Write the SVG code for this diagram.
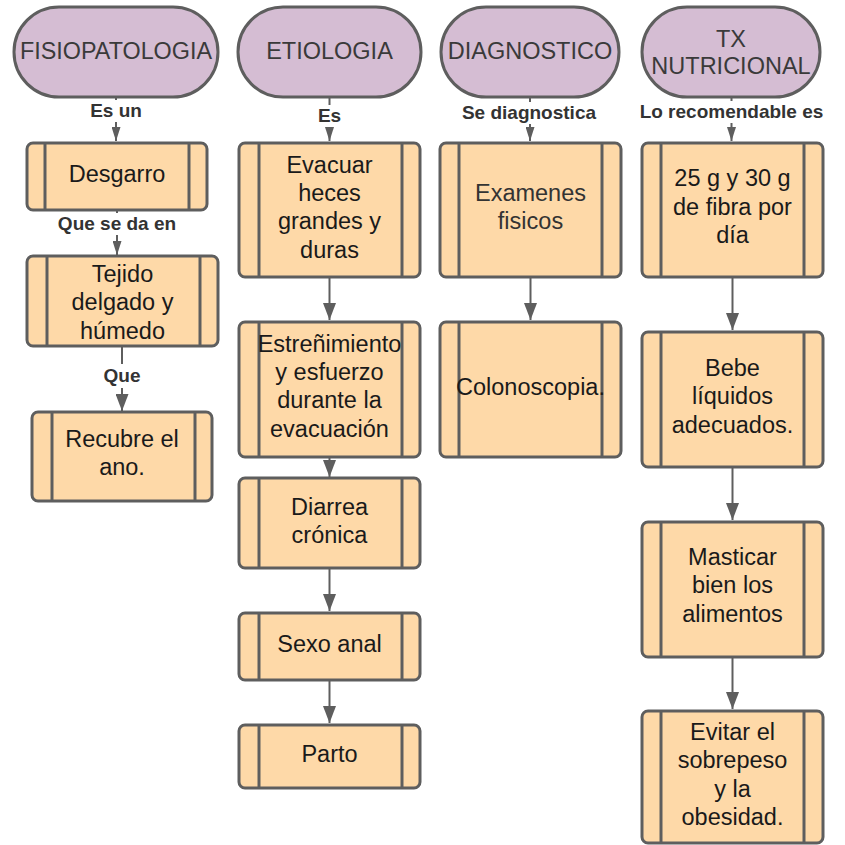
<svg xmlns="http://www.w3.org/2000/svg" width="845" height="845" viewBox="0 0 845 845">
<style>
.pill{fill:#d5bdd3;stroke:#5e5e5e;stroke-width:3}
.box{fill:#fed9a8;stroke:#5e5e5e;stroke-width:3}
.bar{stroke:#5e5e5e;stroke-width:3}
.pt{font-family:"Liberation Sans",Arial,sans-serif;font-size:23.5px;fill:#3a3a3a;text-anchor:middle}
.bt{font-family:"Liberation Sans",Arial,sans-serif;font-size:23.5px;fill:#1a1a1a;text-anchor:middle}
.gt{fill:#333}
.lb{font-family:"Liberation Sans",Arial,sans-serif;font-size:19px;font-weight:bold;fill:#333;text-anchor:middle}
.ln{stroke:#5e5e5e;stroke-width:2;fill:none}
.lbg{fill:#ffffff}
</style>
<defs>
<marker id="arr" viewBox="0 0 17 13" refX="17" refY="6.5" markerWidth="17" markerHeight="13" markerUnits="userSpaceOnUse" orient="auto"><path d="M0,0 L17,6.5 L0,13 z" fill="#5e5e5e"/></marker>
<marker id="arrs" viewBox="0 0 14 9" refX="14" refY="4.5" markerWidth="14" markerHeight="9" markerUnits="userSpaceOnUse" orient="auto"><path d="M0,0 L14,4.5 L0,9 z" fill="#5e5e5e"/></marker>
</defs>
<rect width="845" height="845" fill="#ffffff"/>

<g id="connectors">
<line class="ln" x1="116" y1="97" x2="116" y2="141" marker-end="url(#arrs)"/>
<rect class="lbg" x="86" y="100" width="60" height="22"/>
<text class="lb" x="116" y="117">Es un</text>

<line class="ln" x1="117" y1="210" x2="117" y2="255" marker-end="url(#arrs)"/>
<rect class="lbg" x="52" y="213" width="130" height="22"/>
<text class="lb" x="117" y="230">Que se da en</text>

<line class="ln" x1="122" y1="346" x2="122" y2="411" marker-end="url(#arr)"/>
<rect class="lbg" x="100" y="364" width="44" height="24"/>
<text class="lb" x="122" y="382">Que</text>

<line class="ln" x1="329.5" y1="97" x2="329.5" y2="141" marker-end="url(#arrs)"/>
<rect class="lbg" x="312" y="105" width="35" height="22"/>
<text class="lb" x="329.5" y="122">Es</text>

<line class="ln" x1="329.5" y1="277" x2="329.5" y2="320" marker-end="url(#arr)"/>
<line class="ln" x1="329.5" y1="457" x2="329.5" y2="477" marker-end="url(#arr)"/>
<line class="ln" x1="329.5" y1="568" x2="329.5" y2="611" marker-end="url(#arr)"/>
<line class="ln" x1="329.5" y1="680" x2="329.5" y2="723" marker-end="url(#arr)"/>

<line class="ln" x1="530" y1="97" x2="530" y2="141" marker-end="url(#arrs)"/>
<rect class="lbg" x="458" y="102" width="142" height="22"/>
<text class="lb" x="529" y="119">Se diagnostica</text>
<line class="ln" x1="530.5" y1="277" x2="530.5" y2="320" marker-end="url(#arr)"/>

<line class="ln" x1="731.5" y1="97" x2="731.5" y2="141" marker-end="url(#arrs)"/>
<rect class="lbg" x="634" y="101" width="196" height="22"/>
<text class="lb" x="731.5" y="118">Lo recomendable es</text>
<line class="ln" x1="732.5" y1="277" x2="732.5" y2="330" marker-end="url(#arr)"/>
<line class="ln" x1="732.5" y1="467" x2="732.5" y2="520" marker-end="url(#arr)"/>
<line class="ln" x1="732.5" y1="657" x2="732.5" y2="709" marker-end="url(#arr)"/>
</g>

<g id="n_fisiopatologia">
<rect class="pill" x="14" y="7" width="204" height="90" rx="45"/>
<text class="pt" x="116" y="59" textLength="192" lengthAdjust="spacingAndGlyphs">FISIOPATOLOGIA</text>
</g>
<g id="n_etiologia">
<rect class="pill" x="238" y="7" width="183" height="90" rx="45"/>
<text class="pt" x="329.5" y="59">ETIOLOGIA</text>
</g>
<g id="n_diagnostico">
<rect class="pill" x="441" y="7" width="178" height="90" rx="45"/>
<text class="pt" x="530" y="59">DIAGNOSTICO</text>
</g>
<g id="n_tx">
<rect class="pill" x="642" y="7" width="178" height="90" rx="45"/>
<text class="pt" x="731" y="47">TX</text>
<text class="pt" x="731" y="74">NUTRICIONAL</text>
</g>

<g id="n_desgarro">
<rect class="box" x="27" y="143" width="180" height="67" rx="6"/>
<line class="bar" x1="45" y1="143" x2="45" y2="210"/><line class="bar" x1="189" y1="143" x2="189" y2="210"/>
<text class="bt" x="117" y="182">Desgarro</text>
</g>
<g id="n_tejido">
<rect class="box" x="27" y="256" width="191" height="90" rx="6"/>
<line class="bar" x1="47" y1="256" x2="47" y2="346"/><line class="bar" x1="200" y1="256" x2="200" y2="346"/>
<text class="bt" x="122.5" y="281.5">Tejido</text>
<text class="bt" x="122.5" y="310">delgado y</text>
<text class="bt" x="122.5" y="338.5">húmedo</text>
</g>
<g id="n_recubre">
<rect class="box" x="32" y="412" width="180" height="89" rx="6"/>
<line class="bar" x1="52" y1="412" x2="52" y2="501"/><line class="bar" x1="195" y1="412" x2="195" y2="501"/>
<text class="bt" x="122" y="447">Recubre el</text>
<text class="bt" x="122" y="475">ano.</text>
</g>

<g id="n_evacuar">
<rect class="box" x="239" y="143" width="181" height="134" rx="6"/>
<line class="bar" x1="259" y1="143" x2="259" y2="277"/><line class="bar" x1="402" y1="143" x2="402" y2="277"/>
<text class="bt" x="329.5" y="172.7">Evacuar</text>
<text class="bt" x="329.5" y="201">heces</text>
<text class="bt" x="329.5" y="229.3">grandes y</text>
<text class="bt" x="329.5" y="257.7">duras</text>
</g>
<g id="n_estrenimiento">
<rect class="box" x="239" y="322" width="181" height="135" rx="6"/>
<line class="bar" x1="259" y1="322" x2="259" y2="457"/><line class="bar" x1="402" y1="322" x2="402" y2="457"/>
<text class="bt" x="329.5" y="351.7">Estreñimiento</text>
<text class="bt" x="329.5" y="380">y esfuerzo</text>
<text class="bt" x="329.5" y="408.3">durante la</text>
<text class="bt" x="329.5" y="436.7">evacuación</text>
</g>
<g id="n_diarrea">
<rect class="box" x="239" y="478" width="181" height="90" rx="6"/>
<line class="bar" x1="259" y1="478" x2="259" y2="568"/><line class="bar" x1="402" y1="478" x2="402" y2="568"/>
<text class="bt" x="329.5" y="515">Diarrea</text>
<text class="bt" x="329.5" y="543">crónica</text>
</g>
<g id="n_sexo">
<rect class="box" x="239" y="613" width="181" height="67" rx="6"/>
<line class="bar" x1="259" y1="613" x2="259" y2="680"/><line class="bar" x1="402" y1="613" x2="402" y2="680"/>
<text class="bt" x="329.5" y="652">Sexo anal</text>
</g>
<g id="n_parto">
<rect class="box" x="239" y="725" width="181" height="63" rx="6"/>
<line class="bar" x1="259" y1="725" x2="259" y2="788"/><line class="bar" x1="402" y1="725" x2="402" y2="788"/>
<text class="bt" x="329.5" y="762">Parto</text>
</g>

<g id="n_examenes">
<rect class="box" x="440" y="143" width="181" height="134" rx="6"/>
<line class="bar" x1="459" y1="143" x2="459" y2="277"/><line class="bar" x1="602" y1="143" x2="602" y2="277"/>
<text class="bt gt" x="530.5" y="200.7">Examenes</text>
<text class="bt gt" x="530.5" y="229.3">fisicos</text>
</g>
<g id="n_colonoscopia">
<rect class="box" x="440" y="322" width="181" height="135" rx="6"/>
<line class="bar" x1="459" y1="322" x2="459" y2="457"/><line class="bar" x1="602" y1="322" x2="602" y2="457"/>
<text class="bt" x="530.5" y="395">Colonoscopia.</text>
</g>

<g id="n_fibra">
<rect class="box" x="642" y="143" width="181" height="134" rx="6"/>
<line class="bar" x1="661" y1="143" x2="661" y2="277"/><line class="bar" x1="804" y1="143" x2="804" y2="277"/>
<text class="bt" x="732.5" y="186">25 g y 30 g</text>
<text class="bt" x="732.5" y="215">de fibra por</text>
<text class="bt" x="732.5" y="243.3">día</text>
</g>
<g id="n_bebe">
<rect class="box" x="642" y="332" width="181" height="135" rx="6"/>
<line class="bar" x1="661" y1="332" x2="661" y2="467"/><line class="bar" x1="804" y1="332" x2="804" y2="467"/>
<text class="bt" x="732.5" y="376">Bebe</text>
<text class="bt" x="732.5" y="404.3">líquidos</text>
<text class="bt" x="732.5" y="432.7">adecuados.</text>
</g>
<g id="n_masticar">
<rect class="box" x="642" y="522" width="181" height="135" rx="6"/>
<line class="bar" x1="661" y1="522" x2="661" y2="657"/><line class="bar" x1="804" y1="522" x2="804" y2="657"/>
<text class="bt" x="732.5" y="565">Masticar</text>
<text class="bt" x="732.5" y="593.3">bien los</text>
<text class="bt" x="732.5" y="621.7">alimentos</text>
</g>
<g id="n_evitar">
<rect class="box" x="642" y="711" width="181" height="132" rx="6"/>
<line class="bar" x1="661" y1="711" x2="661" y2="843"/><line class="bar" x1="804" y1="711" x2="804" y2="843"/>
<text class="bt" x="732.5" y="740">Evitar el</text>
<text class="bt" x="732.5" y="768.3">sobrepeso</text>
<text class="bt" x="732.5" y="796.7">y la</text>
<text class="bt" x="732.5" y="825">obesidad.</text>
</g>
</svg>
